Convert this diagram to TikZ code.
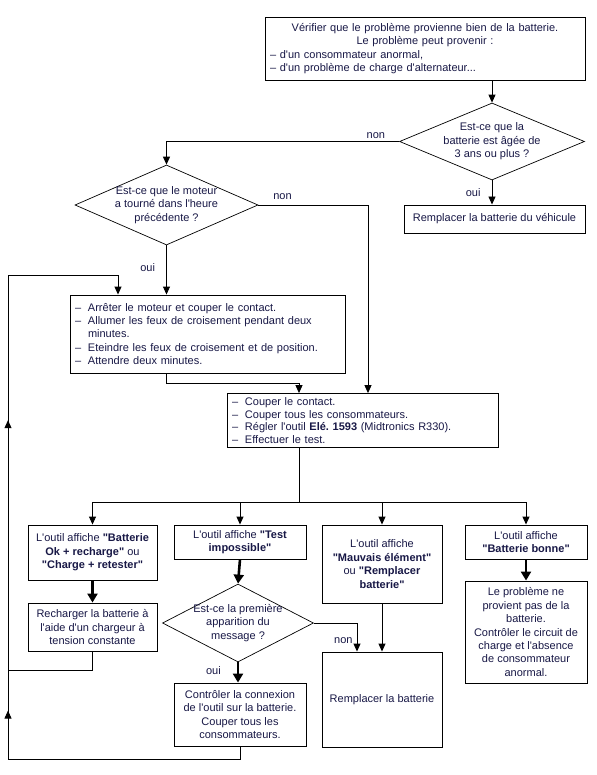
\documentclass[tikz,border=0pt]{standalone}
\usepackage{fontspec}
\newfontfamily\diagfont{Liberation Sans}
\usetikzlibrary{shapes.geometric, arrows.meta, decorations.markings}
\definecolor{inknavy}{RGB}{24,24,70}
\newcommand{\listdash}{\makebox[13pt][l]{–}}
\frenchspacing

\begin{document}
\begin{tikzpicture}[
    x=1pt, y=-1pt,
    >={Triangle[length=8pt,width=7pt]},
    every node/.style={font=\diagfont\fontsize{11}{13.4}\selectfont, text=inknavy, align=center},
    block/.style={draw, line width=0.9pt, inner sep=4pt},
    decision/.style={draw, diamond, line width=0.7pt, inner sep=-3pt},
    line/.style={->, line width=0.9pt},
    bigline/.style={-{Triangle[length=9pt,width=10pt]}, line width=2.6pt},
    plain/.style={line width=0.9pt},
    lab/.style={inner sep=2pt}
]
\path[use as bounding box, fill=white] (0,0) rectangle (596,775);

% Nodes
\node[block, minimum width=320, minimum height=63, text width=310, align=left] (verify) at (425,48.5)
  {\makebox[310pt]{Vérifier que le problème provienne bien de la batterie.}\\
   \makebox[310pt]{Le problème peut provenir :}\\
   – d'un consommateur anormal,\\
   – d'un problème de charge d'alternateur...};
\node[decision, shape aspect=2.4, minimum width=185, minimum height=77] (battage) at (492,141.5)
  {Est-ce que la\\batterie est âgée de\\3 ans ou plus ?};
\node[block, minimum width=181, minimum height=28] (replaceveh) at (494.5,219)
  {Remplacer la batterie du véhicule};

\node[decision, shape aspect=2.29, minimum width=183, minimum height=80] (engine) at (166.5,205)
  {Est-ce que le moteur\\a tourné dans l'heure\\précédente ?};

\node[block, minimum width=275, minimum height=78, text width=265, align=left] (lightsteps) at (207.5,334)
  {\listdash Arrêter le moteur et couper le contact.\\
   \listdash Allumer les feux de croisement pendant deux\\
   \hspace*{13pt}minutes.\\
   \listdash Eteindre les feux de croisement et de position.\\
   \listdash Attendre deux minutes.};

\node[block, minimum width=271, minimum height=53, text width=261, align=left,
      font=\diagfont\fontsize{11}{12.6}\selectfont] (testsetup) at (362.5,420.5)
  {\listdash Couper le contact.\\
   \listdash Couper tous les consommateurs.\\
   \listdash Régler l'outil \textbf{Elé. 1593} (Midtronics R330).\\
   \listdash Effectuer le test.};

\node[block, minimum width=129, minimum height=55] (okrecharge) at (92.5,552.5)
  {L'outil affiche \textbf{"Batterie}\\\textbf{Ok + recharge"} ou\\\textbf{"Charge + retester"}};
\node[block, minimum width=132, minimum height=34] (testimposs) at (240,542)
  {L'outil affiche \textbf{"Test}\\\textbf{impossible"}};
\node[block, minimum width=120, minimum height=78] (badcell) at (382,564)
  {L'outil affiche\\\textbf{"Mauvais élément"}\\ou \textbf{"Remplacer}\\\textbf{batterie"}};
\node[block, minimum width=122, minimum height=34] (goodbatt) at (526,542)
  {L'outil affiche\\\textbf{"Batterie bonne"}};

\node[block, minimum width=129, minimum height=48] (recharge) at (92.5,627)
  {Recharger la batterie à\\l'aide d'un chargeur à\\tension constante};
\node[decision, shape aspect=1.94, minimum width=151, minimum height=78] (firstmsg) at (238,623)
  {Est-ce la première\\apparition du\\message ?};
\node[block, minimum width=132, minimum height=63] (checkconn) at (240,714.5)
  {Contrôler la connexion\\de l'outil sur la batterie.\\Couper tous les\\consommateurs.};
\node[block, minimum width=120, minimum height=95] (replacebatt) at (382,699.5)
  {Remplacer la batterie};
\node[block, minimum width=122, minimum height=102] (notbatt) at (526,632)
  {Le problème ne\\provient pas de la\\batterie.\\Contrôler le circuit de\\charge et l'absence\\de consommateur\\anormal.};

% Junctions
\coordinate (mergein) at (299,383);
\coordinate (distrib) at (299,502);
\coordinate (loopbl) at (8,759);
\coordinate (looptl) at (8,275);
\coordinate (loopin) at (118,275);
\coordinate (loopjoin) at (8,670);

% Arrows
\draw[line] (verify.south -| battage.north) -- (battage.north);
\draw[line] (battage.west) -| node[lab, above, pos=0.05] (agenon) {non} (engine.north);
\draw[line] (battage.south) -- node[lab, left, pos=0.5, xshift=-9pt] (ageoui) {oui} (battage.south |- replaceveh.north);

\draw[line] (engine.east) -| node[lab, above, pos=0.11, yshift=3pt] (enginenon) {non} ([xshift=5.5pt]testsetup.north);
\draw[line] (engine.south) -- node[lab, left, pos=0.45, xshift=-9pt] (engineoui) {oui} (engine.south |- lightsteps.north);

\draw[line] (lightsteps.south -| engine.south) |- (mergein) -- (mergein |- testsetup.north);
\draw[plain] (mergein |- testsetup.south) -- (distrib);
\draw[plain] (okrecharge.north |- distrib) -- (goodbatt.north |- distrib);
\draw[line] (okrecharge.north |- distrib) -- (okrecharge.north);
\draw[line] (testimposs.north |- distrib) -- (testimposs.north);
\draw[line] (badcell.north |- distrib) -- (badcell.north);
\draw[line] (goodbatt.north |- distrib) -- (goodbatt.north);

\draw[bigline] (okrecharge.south) -- (recharge.north);
\draw[bigline] (testimposs.south) -- (firstmsg.north);
\draw[bigline] (goodbatt.south) -- (notbatt.north);
\draw[bigline] (firstmsg.south) -- node[lab, left, pos=0.4, xshift=-14pt] (msgoui) {oui} (firstmsg.south |- checkconn.north);

\draw[line] (firstmsg.east) -| node[lab, left, pos=0.8, xshift=-2pt] (msgnon) {non} ([xshift=-25pt]replacebatt.north);
\draw[line] (badcell.south) -- (replacebatt.north);

% Return loop
\draw[plain] (recharge.south) |- (loopjoin);
\draw[plain] (checkconn.south) |- (loopbl);
\draw[plain, decoration={markings,
    mark=at position 0.1 with {\arrow{Triangle[length=8pt,width=7pt]}},
    mark=at position 0.7 with {\arrow{Triangle[length=8pt,width=7pt]}}},
    postaction={decorate}] (loopbl) -- (looptl);
\draw[line] (looptl) -- (loopin) -- (loopin |- lightsteps.north);

\end{tikzpicture}
\end{document}
